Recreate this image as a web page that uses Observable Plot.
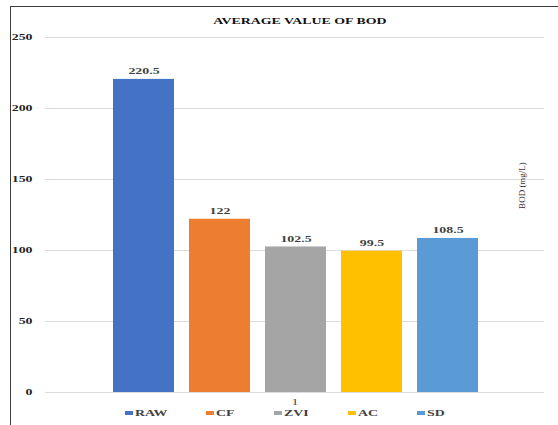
<!DOCTYPE html>
<html>
<head>
<meta charset="utf-8">
<script src="https://cdn.jsdelivr.net/npm/d3@7"></script>
<script src="https://cdn.jsdelivr.net/npm/@observablehq/plot@0.6"></script>
<style>
  html, body { margin: 0; padding: 0; background: #fff; }
  #page { position: relative; width: 558px; height: 425px; overflow: hidden; background: #fff; }
  #edge { position: absolute; left: 10px; top: 6px; width: 600px; height: 500px;
          border-left: 1.5px solid #3c3c3c; border-top: 1.5px solid #3c3c3c; }
  #title { position: absolute; left: 0; top: 17px; width: 600px; height: 14px; line-height: 14px;
           text-align: center; font: bold 7.5px "Liberation Serif", "Times New Roman", serif; color: #111; }
  #title span { display: inline-block; }
  #plot { position: absolute; left: 0; top: 30px; }
  #legend { position: absolute; left: 125px; top: 405px; height: 16px; display: flex; align-items: center;
            gap: 39px; font: bold 7.5px "Liberation Serif", "Times New Roman", serif; color: #404040; }
  #legend .item { display: flex; align-items: center; gap: 2px; white-space: nowrap; }
  #legend .sw { width: 8px; height: 3.5px; display: inline-block; }
  #legend .lab { display: inline-block; }
</style>
</head>
<body>
<div id="page">
  <div id="edge"></div>
  <div id="title"></div>
  <div id="plot"></div>
  <div id="legend"></div>
</div>
<script>
// Average BOD per treatment stage
const series = ["RAW", "CF", "ZVI", "AC", "SD"];
const values = [220.5, 122, 102.5, 99.5, 108.5];
const colors = ["#4472C4", "#ED7D31", "#A5A5A5", "#FFC000", "#5B9BD5"];
const categories = ["1"];
const yTicks = [0, 50, 100, 150, 200, 250];
const title = "AVERAGE VALUE OF BOD";
const yLabel = "BOD (mg/L)";

// the typeface is set wide: glyphs are stretched horizontally by this factor
const WIDE = 1.85;

const data = series.map((s, i) => ({series: s, value: values[i]}));

// widen an HTML span in place, keeping its layout box in step
function widenSpan(el, k) {
  const w = el.getBoundingClientRect().width;
  el.style.transformOrigin = "left center";
  el.style.transform = `scaleX(${k})`;
  el.style.width = w + "px";
  el.style.marginRight = (w * (k - 1)) + "px";
}

const titleSpan = document.createElement("span");
titleSpan.textContent = title;
document.getElementById("title").appendChild(titleSpan);
{
  const w = titleSpan.getBoundingClientRect().width;
  titleSpan.style.transform = `scaleX(${WIDE})`;
  titleSpan.style.width = w + "px";
}

const chart = Plot.plot({
  width: 558,
  height: 375,
  marginTop: 7,
  marginBottom: 13,
  marginLeft: 45,
  marginRight: 14,
  style: {
    fontFamily: "'Liberation Serif', 'Times New Roman', serif",
    fontSize: "7.5px",
    fontWeight: "bold",
    color: "#404040",
    background: "transparent",
    overflow: "visible"
  },
  x: {domain: series, paddingInner: 0.2, paddingOuter: 0.1, insetLeft: 59.5, insetRight: 58, axis: null},
  y: {domain: [0, 250], axis: null},
  color: {domain: series, range: colors},
  marks: [
    Plot.gridY(yTicks, {stroke: "#dcdcdc", strokeOpacity: 1}),
    Plot.barY(data, {x: "series", y: "value", fill: "series"}),
    Plot.text(data, {x: "series", y: "value", text: d => String(d.value), dy: -7.5, fill: "#404040"}),
    Plot.axisY(yTicks, {tickSize: 0, tickPadding: 13, label: null, fill: "#222", tickFormat: d => String(d)}),
    Plot.text(categories, {frameAnchor: "bottom", dy: 12, text: d => d, fill: "#404040", fontWeight: "normal"}),
    Plot.text([yLabel], {frameAnchor: "top-right", dx: -22, dy: 148, rotate: -90, text: d => d,
                         textAnchor: "middle", lineAnchor: "middle",
                         fill: "#333", fontSize: 9, fontWeight: "normal", className: "ylabel"})
  ]
});
document.getElementById("plot").appendChild(chart);

// stretch the horizontal labels of the chart
d3.select(chart).selectAll("text").each(function () {
  if (this.closest(".ylabel")) return;
  const w = this.getComputedTextLength();
  this.setAttribute("textLength", w * WIDE);
  this.setAttribute("lengthAdjust", "spacingAndGlyphs");
});

// Legend: one swatch per series
const legend = document.getElementById("legend");
series.forEach((s, i) => {
  const item = document.createElement("div");
  item.className = "item";
  const sw = document.createElement("span");
  sw.className = "sw";
  sw.style.background = colors[i];
  const label = document.createElement("span");
  label.className = "lab";
  label.textContent = s;
  item.appendChild(sw);
  item.appendChild(label);
  legend.appendChild(item);
  widenSpan(label, WIDE);
});
</script>
</body>
</html>
